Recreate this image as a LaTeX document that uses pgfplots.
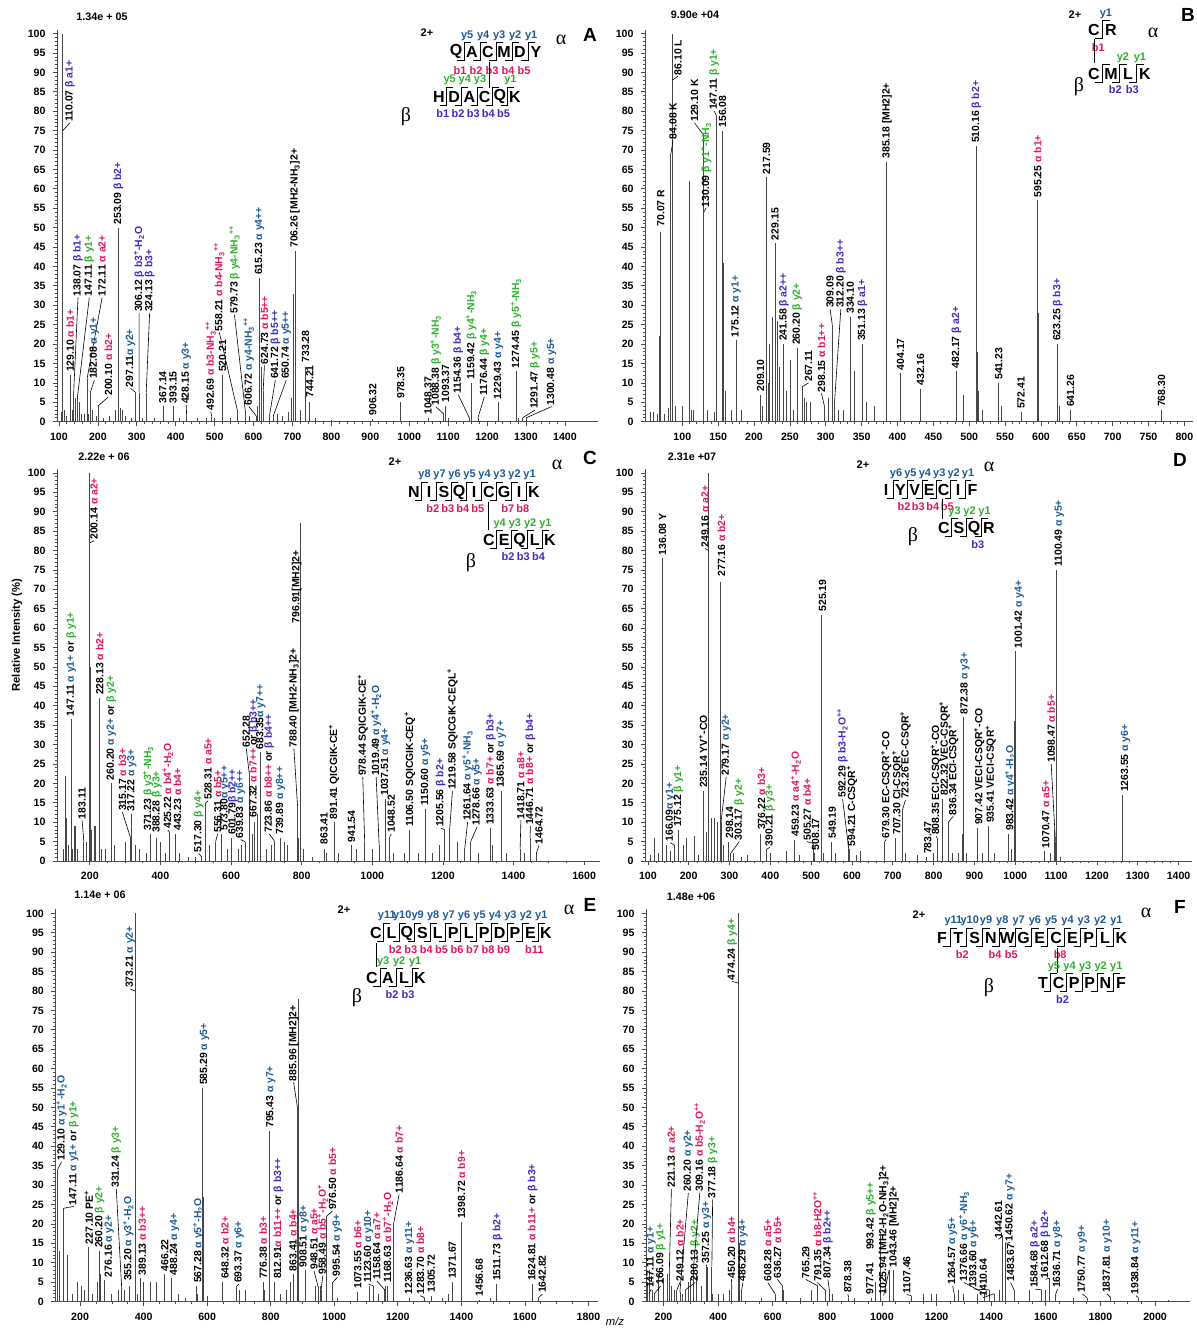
\documentclass[border=0pt]{standalone}
\usepackage{fontspec}
\setmainfont{Liberation Sans}
\newfontfamily\seriffont{Liberation Serif}
\usepackage{pgfplots}
\pgfplotsset{compat=1.18}
\definecolor{ared}{HTML}{E3165B}
\definecolor{ablue}{HTML}{1E5A96}
\definecolor{bgreen}{HTML}{2EAF2E}
\definecolor{bpur}{HTML}{3C2DBE}

\newcommand{\labfont}{\fontsize{5.2}{6}\selectfont\bfseries}
\newcommand{\tickfont}{\fontsize{5.3}{6}\selectfont\bfseries}
\newcommand{\seqfont}{\fontsize{8}{9}\selectfont\bfseries}
\newcommand{\ionfont}{\fontsize{5.5}{6}\selectfont\bfseries}
\newcommand{\grkfont}{\fontsize{10}{11}\selectfont\seriffont}
\newcommand{\panfont}{\fontsize{9.5}{10}\selectfont\bfseries}
\newcommand{\mulfont}{\fontsize{5.4}{6}\selectfont\bfseries}

\newcommand{\AR}[1]{\textcolor{ared}{α #1}}
\newcommand{\AB}[1]{\textcolor{ablue}{α #1}}
\newcommand{\BG}[1]{\textcolor{bgreen}{β #1}}
\newcommand{\BP}[1]{\textcolor{bpur}{β #1}}
\newcommand{\sps}[1]{\textsuperscript{#1}}
\newcommand{\sbs}[1]{\textsubscript{#1}}

\tikzset{lab/.style={rotate=90,anchor=west,inner sep=0.4pt,font=\labfont},
ldr/.style={line width=0.3pt,black}}
\newcommand{\pk}[3]{\node[lab] at (axis cs:#1,#2) {#3};}
\newcommand{\pkl}[5]{\draw[ldr] (axis cs:#1,#2) -- (axis cs:#3,#4); \node[lab] at (axis cs:#3,#4) {#5};}

\newcommand{\chain}[4]{\foreach \L [count=\i from 0] in {#4} {\node[font=\seqfont,inner sep=0pt] at ({#1+\i*#3},#2) {\L};}}
\newcommand{\brk}[4]{\foreach \i in {1,...,#4} {\draw[line width=0.5pt] ({#1+(\i-0.5)*#3-0.42*#3},{#2+9}) -- ({#1+(\i-0.5)*#3},{#2+9}) -- ({#1+(\i-0.5)*#3},{#2-9}) -- ({#1+(\i-0.5)*#3+0.42*#3},{#2-9});}}
\newcommand{\ylab}[5]{\foreach \g/\tx in {#5} {\node[font=\ionfont,text=#4,inner sep=0pt] at ({#1+(\g-0.3)*#3},#2) {\tx};}}
\newcommand{\blab}[5]{\foreach \g/\tx in {#5} {\node[font=\ionfont,text=#4,inner sep=0pt] at ({#1+(\g-0.75)*#3},#2) {\tx};}}

\pgfplotsset{
 spec/.style={
  scale only axis, height=196pt, anchor=south west,
  axis lines*=left, ymin=0, ymax=101,
  ytick={0,5,...,100}, minor y tick num=4,
  tick align=outside, major tick length=2.2pt, minor tick length=1.2pt,
  axis line style={line width=0.45pt, black!70},
  every tick/.append style={line width=0.35pt, black!70},
  tick label style={font=\tickfont, black},
  /pgf/number format/assume math mode=true,
  /pgf/number format/set thousands separator={},
  clip=false,
 },
 pk/.style={ycomb, draw=black!72, line width=0.4pt, mark=none}
}

\begin{document}
\begin{tikzpicture}
\useasboundingbox (0,0) rectangle (598pt,664pt);

% ---------------- A ----------------
\begin{axis}[spec, at={(28.5pt,453.15pt)}, width=270.5pt, xmin=95, xmax=1485, xtick={100,200,...,1400}, minor x tick num=4]
\addplot[pk] coordinates {(106,2.5)(110.07,100)(115,3)(120,1.5)(129.10,12)(135,3)(138.07,8)(142,6)(147.11,6)(152,5)(158,2)(165,2)(172.11,11)(176,2)(182.08,8)(186,3)(195,1.5)(200.10,4)(215,1)(230,1.5)(245,3)(253.09,50)(258,3.5)(263,3)(270,1.5)(285,1)(297.11,7.5)(306.12,7.5)(315,1)(324.13,7.5)(345,1)(367.14,4)(393.15,4)(410,1)(428.15,1.5)(455,1)(480,1)(492.69,1.3)(500,1)(520.21,12)(540,1)(558.21,3)(579.73,2)(590,1.5)(606.72,1.5)(610,4)(615.23,37)(620,14)(624.73,8)(641.72,2)(650.74,1.5)(660,2)(675,1.5)(690,2.5)(698,6)(703,33)(706.26,44)(720,3)(733.28,14)(744.21,5)(760,1)(800,0.5)(906.32,0.8)(978.35,5)(1048.37,1)(1088.38,2)(1093.37,4)(1100,1)(1154.36,1)(1159.42,10)(1176.44,1)(1229.43,5)(1274.45,13)(1280,1)(1291.47,1)(1300.48,1)};
\pkl{110.07}{75}{128}{77}{110.07 \BP{a1+}}
\pk{129.10}{12.5}{129.10 \AR{b1+}}
\pkl{138.07}{8}{149}{32}{138.07 \BP{b1+}}
\pkl{147.11}{6}{178}{32}{147.11 \BG{y1+}}
\pkl{172.11}{11}{211}{32}{172.11 \AR{a2+}}
\pkl{182.08}{8}{191}{10.7}{182.08 \AB{y1+}}
\pkl{200.10}{4}{227}{6.4}{200.10 \AR{b2+}}
\pk{253.09}{50.5}{253.09 \BP{b2+}}
\pkl{297.11}{7.5}{284}{8.6}{297.11\AB{y2+}}
\pkl{306.12}{7.5}{306}{28}{306.12 \BP{b3\sps{+}-H\sbs{2}O}}
\pkl{324.13}{7.5}{333}{28}{324.13 \BP{b3+}}
\pk{367.14}{4.5}{367.14}
\pk{393.15}{4.5}{393.15}
\pkl{428.15}{1.5}{427}{4.3}{428.15 \AB{y3+}}
\pkl{492.69}{1.3}{490}{2.6}{492.69 \AR{b3-NH\sbs{3}\sps{++}}}
\pk{520.21}{12.5}{520.21}
\pkl{558.21}{3}{512}{23}{558.21 \AR{b4-NH\sbs{3}\sps{++}}}
\pkl{579.73}{2}{551}{27.5}{579.73 \BG{y4-NH\sbs{3}\sps{++}}}
\pkl{606.72}{1.5}{588}{3.9}{606.72 \AB{y4-NH\sbs{3}\sps{++}}}
\pk{615.23}{37.5}{615.23 \AB{y4++}}
\pkl{624.73}{8}{628}{14.5}{624.73 \AR{b5++}}
\pkl{641.72}{2}{656}{10.7}{641.72 \BP{b5++}}
\pkl{650.74}{1.5}{684}{10.7}{650.74 \AB{y5++}}
\pk{706.26}{44.5}{706.26 [MH2-NH\sbs{3}]2+}
\pk{733.28}{15}{733.28}
\pk{744.21}{6}{744.21}
\pk{906.32}{1.3}{906.32}
\pk{978.35}{5.6}{978.35}
\pk{1048.37}{1.5}{1048.37}
\pkl{1088.38}{2}{1068}{3.9}{1088.38 \BG{y3\sps{+}-NH\sbs{3}}}
\pk{1093.37}{4.7}{1093.37}
\pkl{1154.36}{1}{1126}{6.9}{1154.36 \BP{b4+}}
\pk{1159.42}{10.5}{1159.42 \BG{y4\sps{+}-NH\sbs{3}}}
\pkl{1176.44}{1}{1193}{6.4}{1176.44 \BG{y4+}}
\pk{1229.43}{5.5}{1229.43 \AB{y4+}}
\pk{1274.45}{13.5}{1274.45 \BG{y5\sps{+}-NH\sbs{3}}}
\pkl{1291.47}{1}{1323}{3}{1291.47 \BG{y5+}}
\pkl{1300.48}{1}{1366}{3.9}{1300.48 \AB{y5+}}
\end{axis}

% ---------------- B ----------------
\begin{axis}[spec, at={(322.5pt,453.15pt)}, width=274pt, xmin=48, xmax=812, xtick={100,150,...,800}, minor x tick num=4]
\addplot[pk] coordinates {(55,2.5)(60,2.5)(65,2)(68,22)(69,11)(70.07,49)(75,2)(80,3.5)(84.08,69)(86.10,100)(90,4)(100,4)(110,62)(112,3)(115,3)(129.10,74)(130.09,54)(135,3)(145,2.5)(147.11,79)(156.08,75)(157,41)(160,8)(168,3)(175.12,21)(183,3)(209.10,7)(212,4)(217.59,63)(220,10)(222,20)(226,27)(229.15,46)(233,26)(236,14)(241.58,20)(245,8)(250,16)(255,3)(260.20,19)(267.11,9)(270,6)(273,5)(278,5)(298.15,4)(303,6)(309.09,25)(312.20,5)(318,3)(325,3)(334.10,27)(340,13)(351.13,20)(357,5)(368,4)(384,40)(385.18,67)(404.17,12.5)(432.16,8.5)(482.17,13)(492,7)(510.16,71)(511,18)(513,8)(519,3)(541.23,10)(545,4)(572.41,2.5)(595.25,57)(596,28)(597,20)(623.25,20)(626,4)(641.26,3)(768.30,3)};
\pk{70.07}{50}{70.07 R}
\pkl{84.08}{69}{87}{72.5}{84.08 K}
\pkl{86.10}{88}{94}{89}{86.10 L}
\pkl{129.10}{74}{117}{77}{129.10 K}
\pkl{130.09}{54}{133}{55}{130.09 \BG{y1\sps{+}-NH\sbs{3}}}
\pkl{147.11}{79}{144.5}{80}{147.11 \BG{y1+}}
\pk{156.08}{75.5}{156.08}
\pk{175.12}{21.5}{175.12 \AB{y1+}}
\pk{209.10}{7.5}{209.10}
\pk{217.59}{63.5}{217.59}
\pk{229.15}{46.5}{229.15}
\pk{241.58}{20.5}{241.58 \BP{a2++}}
\pk{260.20}{19.5}{260.20 \BG{y2+}}
\pkl{267.11}{9}{276}{10}{267.11}
\pkl{298.15}{4}{294}{7.3}{298.15 \AR{b1++}}
\pkl{309.09}{25}{306}{29}{309.09}
\pkl{312.20}{5}{321}{29}{312.20 \BP{b3++}}
\pk{334.10}{27.5}{334.10}
\pk{351.13}{20.5}{351.13 \BP{a1+}}
\pk{385.18}{67.5}{385.18 [MH2]2+}
\pk{404.17}{13}{404.17}
\pk{432.16}{9}{432.16}
\pk{482.17}{13.5}{482.17 \BP{a2+}}
\pk{510.16}{71.5}{510.16 \BP{b2+}}
\pk{541.23}{10.5}{541.23}
\pk{572.41}{3}{572.41}
\pk{595.25}{57.5}{595.25 \AR{b1+}}
\pk{623.25}{20.5}{623.25 \BP{b3+}}
\pk{641.26}{3.5}{641.26}
\pk{768.30}{3.5}{768.30}
\end{axis}

% ---------------- C ----------------
\begin{axis}[spec, at={(28.5pt,233.5pt)}, width=271.5pt, xmin=107, xmax=1645, xtick={200,400,...,1600}, minor x tick num=3]
\addplot[pk] coordinates {(125,3)(130,22)(133,11)(140,4)(147.11,36.5)(152,3)(155,9)(160,9)(165,3)(183.11,5)(190,5)(200.14,100)(201,50)(205,8)(212,9)(215,9)(228.13,42)(232,3)(245,3)(260.20,20)(270,4)(300,5)(315.17,6)(317.22,12)(330,4)(340,3)(360,2)(371.23,7)(388.28,6)(400,5)(415,2)(425.22,7.5)(443.23,7)(455,2)(480,1)(500,1)(517.30,1)(528.31,15)(540,4)(556.31,5)(573.80,7)(590,3)(601.79,6)(620,3)(630,4)(639.83,5)(652.28,22)(660,7)(667.32,10)(675,12)(683.35,28)(700,3)(715,4)(723.86,5)(739.89,6)(750,5)(760,4)(788.40,14)(790,6)(796.91,87)(805,3)(830,1)(863.41,3)(870,2)(891.41,10)(905,2)(941.54,4)(955,3)(978.44,5)(1000,3)(1019.49,4)(1037.51,16)(1048.52,6)(1060,2)(1090,2)(1106.50,8)(1130,2)(1150.60,13.5)(1170,2)(1190,4)(1205.56,8)(1219.58,8.5)(1240,5)(1261.64,3)(1278.66,5)(1300,2)(1333.63,8.5)(1340,4)(1365.69,18)(1380,2)(1418.71,3)(1430,2)(1446.71,6)(1464.72,2)};
\pk{147.11}{37}{147.11 \AB{y1+} or \BG{y1+}}
\pkl{183.11}{5}{178}{10.5}{183.11}
\pkl{200.14}{82}{212}{82.5}{200.14 \AR{a2+}}
\pk{228.13}{42.5}{228.13 \AR{b2+}}
\pk{260.20}{20.5}{260.20 \AB{y2+} or \BG{y2+}}
\pkl{315.17}{6}{292}{12.6}{315.17 \AR{b3+}}
\pk{319}{12.5}{317.22 \AB{y3+}}
\pk{365}{7.5}{371.23 \BG{y3\sps{+}-NH\sbs{3}}}
\pk{390}{7}{388.28 \BG{y3+}}
\pkl{425.22}{7.5}{421}{8}{425.22 \AR{b4\sps{+}-H\sbs{2}O}}
\pk{448}{7.5}{443.23 \AR{b4+}}
\pkl{517.30}{1}{508}{2}{517.30 \BG{y4+}}
\pkl{528.31}{15}{535}{15.5}{528.31 \AR{a5+}}
\pkl{556.31}{5}{562}{7}{556.31 \AR{b5+}}
\pk{583}{7.5}{573.80\AB{y5++}}
\pk{605}{6.5}{601.79\BP{b2++}}
\pkl{639.83}{5}{627}{5.5}{639.83 \AB{y6++}}
\pkl{652.28}{22}{643}{29}{652.28}
\pk{665}{11}{667.32 \AR{b7++} or \BP{b3++}}
\pk{684}{28.5}{683.35\AB{y7++}}
\pkl{723.86}{5}{708}{7}{723.86 \AR{b8++} or \BP{b4++}}
\pk{740}{6.5}{739.89 \AB{y8++}}
\pkl{788.40}{14}{778}{29}{788.40 [MH2-NH\sbs{3}]2+}
\pk{786}{61}{796.91[MH2]2+}
\pk{863.41}{4}{863.41}
\pk{891.41}{10.5}{891.41 QICGIK-CE\sps{+}}
\pk{941.54}{4.5}{941.54}
\pkl{978.44}{5}{973}{21.6}{978.44 SQICGIK-CE\sps{+}}
\pkl{1019.49}{4}{1011}{21.6}{1019.49 \AB{y4\sps{+}-H\sbs{2}O}}
\pk{1037.51}{16.5}{1037.51 \AB{y4+}}
\pkl{1048.52}{6}{1054}{7}{1048.52}
\pk{1106.50}{8.5}{1106.50 SQICGIK-CEQ\sps{+}}
\pk{1150.60}{14}{1150.60 \AB{y5+}}
\pkl{1205.56}{8}{1194}{8.5}{1205.56 \BP{b2+}}
\pkl{1219.58}{8.5}{1227}{18}{1219.58 SQICGIK-CEQL\sps{+}}
\pkl{1261.64}{3}{1270}{10}{1261.64 \AB{y5\sps{+}-NH\sbs{3}}}
\pkl{1278.66}{5}{1297}{8.8}{1278.66 \AB{y5+}}
\pk{1336}{9}{1333.63 \AR{b7+} or \BP{b3+}}
\pk{1365.69}{18.5}{1365.69 \AB{y7+}}
\pkl{1418.71}{3}{1421}{10.5}{1418.71 \AR{a8+}}
\pkl{1446.71}{6}{1448}{9}{1446.71 \AR{b8+} or \BP{b4+}}
\pkl{1464.72}{2}{1472}{4}{1464.72}
\end{axis}

% ---------------- D ----------------
\begin{axis}[spec, at={(322.5pt,233.5pt)}, width=273.5pt, xmin=93, xmax=1433, xtick={100,200,...,1400}, minor x tick num=4]
\addplot[pk] coordinates {(105,1.5)(115,6)(125,2)(136.08,78)(145,4)(155,2.5)(166.09,4)(175.12,8)(188,4)(195,6)(215,6.5)(225,1.5)(235.14,18)(243,7.5)(249.16,100)(255,11)(262,11)(270,10)(277.16,72)(279.17,10)(285,4)(298.14,5)(303.17,2)(310,2)(330,1)(345,1.5)(376.22,7)(390.21,3)(400,2)(440,2.5)(459.23,5.5)(470,1.5)(505.27,4.5)(508.17,2)(525.19,63.5)(530,2)(549.19,5)(560,2)(592.29,3)(594.21,3)(610,1.5)(620,2.5)(679.30,5)(707.30,6)(723.26,13)(730,2)(760,1.5)(783.47,1)(800,2)(808.35,6)(822.32,16)(836.34,10)(845,2)(860,2)(870,7)(872.38,37)(880,2)(907.42,8.5)(920,2)(935.41,9)(950,2)(983.42,7)(990,3)(999,36)(1001.42,54)(1070.47,2.5)(1085,2)(1095,8)(1098.47,5)(1100.49,75)(1102,49)(1110,1)(1263.55,17)};
\pk{136.08}{78.5}{136.08 Y}
\pkl{166.09}{4}{155}{4.7}{166.09\AB{y1+}}
\pk{175.12}{8.5}{175.12 \BG{y1+}}
\pk{235.14}{18.5}{235.14 YV\sps{+}-CO}
\pkl{249.16}{80}{240}{80.5}{249.16 \AR{a2+}}
\pk{280}{73}{277.16 \AR{b2+}}
\pkl{279.17}{10}{292}{21.7}{279.17 \AB{y2+}}
\pk{300}{5.5}{298.14}
\pkl{303.17}{2}{324}{5}{303.17 \BG{y2+}}
\pk{378}{7.7}{376.22 \AR{b3+}}
\pkl{390.21}{3}{399}{3.5}{390.21 \BG{y3+}}
\pk{462}{6}{459.23 \AR{a4\sps{+}-H\sbs{2}O}}
\pkl{505.27}{4.5}{490}{5}{505.27 \AR{b4+}}
\pk{511}{2.5}{508.17}
\pk{528}{64}{525.19}
\pk{552}{5.5}{549.19}
\pkl{592.29}{3}{577}{16}{592.29 \BP{b3-H\sbs{2}O\sps{++}}}
\pk{600}{3.5}{594.21 C-CSQR\sps{+}}
\pkl{679.30}{5}{684}{5.5}{679.30 EC-CSQR\sps{+}-CO}
\pk{711}{6.5}{707.30 CI-CSQR\sps{+}}
\pkl{723.26}{13}{731}{15.7}{723.26 EC-CSQR\sps{+}}
\pk{786}{1.5}{783.47}
\pkl{808.35}{6}{806}{6.4}{808.35 ECI-CSQR\sps{+}-CO}
\pk{827}{16.5}{822.32 VEC-CSQR\sps{+}}
\pkl{836.34}{10}{848}{11.5}{836.34 ECI-CSQR\sps{+}}
\pk{877}{37.5}{872.38 \AB{y3+}}
\pk{912}{9}{907.42 VECI-CSQR\sps{+}-CO}
\pk{940}{9.5}{935.41 VECI-CSQR\sps{+}}
\pk{988}{7.5}{983.42 \AB{y4\sps{+}-H\sbs{2}O}}
\pk{1010}{54.5}{1001.42 \AB{y4+}}
\pk{1075}{3}{1070.47 \AR{a5+}}
\pkl{1098.47}{5}{1088}{25}{1098.47 \AR{b5+}}
\pk{1108}{75.5}{1100.49 \AB{y5+}}
\pk{1270}{17.5}{1263.55 \AB{y6+}}
\end{axis}

% ---------------- E ----------------
\begin{axis}[spec, at={(27.65pt,13.25pt)}, width=271.5pt, xmin=122, xmax=1831, xtick={200,400,...,1800}, minor x tick num=3]
\addplot[pk] coordinates {(128,15)(129.10,34)(135,13)(147.11,24)(160,12)(175,2)(190,5)(205,4)(215,3)(227.10,14)(240,2)(255,5)(260.20,13)(265,7)(276.16,5.5)(300,2)(320,3)(331.24,3)(340,3)(355.20,4)(373.21,100)(375,50)(380,2)(389.13,6)(400,5)(420,5)(440,5)(466.22,7)(488.24,6)(510,2)(530,1)(567.28,4)(570,2)(585.29,55)(587,27)(600,1.5)(648.32,5)(693.37,4)(700,3)(720,3)(776.38,5)(780,3)(795.43,44)(797,28)(812.91,5)(830,2)(850,3)(863.41,5)(870,7)(884,50)(885.96,78)(908.51,8)(940,4)(948.51,4)(955,4)(958.49,3)(976.50,22)(995.54,5)(1010,1)(1073.55,2.5)(1110,4)(1123.60,4)(1140,2)(1158.64,3)(1160,4)(1168.63,4)(1186.64,20)(1236.63,1)(1283.70,1)(1305.72,1.5)(1340,1)(1360,2)(1371.67,5)(1398.72,20.5)(1456.68,0.5)(1490,0.8)(1511.73,4.5)(1624.81,4.5)(1642.82,1)};
\pkl{129.10}{34}{142}{36}{129.10 \AB{y1\sps{+}-H\sbs{2}O}}
\pkl{147.11}{24}{180}{24.5}{147.11 \AB{y1+} or \BG{y1+}}
\pk{227.10}{14.5}{227.10 PE\sps{+}}
\pk{262}{13.5}{260.20 \BG{y2+}}
\pk{292}{6}{276.16 \AB{y2+}}
\pkl{331.24}{3}{314}{29}{331.24 \BG{y3+}}
\pk{352}{5}{355.20 \AB{y3\sps{+}-H\sbs{2}O}}
\pkl{373.21}{80}{358}{80.5}{373.21 \AB{y2+}}
\pk{395}{6.5}{389.13 \AR{b3++}}
\pk{467}{7.5}{466.22}
\pk{497}{6.5}{488.24 \AB{y4+}}
\pk{572}{4.5}{567.28 \AB{y5\sps{+}-H\sbs{2}O}}
\pk{592}{55.5}{585.29 \AB{y5+}}
\pk{656}{5.5}{648.32 \AR{b2+}}
\pkl{693.37}{4}{700}{4.5}{693.37 \AB{y6+}}
\pk{776.38}{5.5}{776.38 \AR{b3+}}
\pk{800}{44.5}{795.43 \AB{y7+}}
\pk{824}{5.5}{812.91\AR{b11++} or \BP{b3++}}
\pk{870}{7.5}{863.41 \AR{b4+}}
\pkl{884}{50}{872}{56.5}{885.96 [MH2]2+}
\pk{905}{8.5}{908.51 \AB{y8+}}
\pkl{948.51}{4}{936}{7.9}{948.51 \AR{a5+}}
\pkl{958.49}{3}{964}{6.6}{958.49 \AR{b5\sps{+}-H\sbs{2}O\sps{+}}}
\pkl{976.50}{22}{994}{23.3}{976.50 \AR{b5+}}
\pkl{995.54}{5}{1010}{6.2}{995.54 \AB{y9+}}
\pk{1073.55}{3}{1073.55 \AR{b6+}}
\pkl{1123.60}{4}{1108}{4.5}{1123.60 \AB{y10+}}
\pkl{1158.64}{3}{1134}{5.3}{1158.64 \AR{a7+}}
\pk{1168.63}{4.5}{1168.63 \AR{b7\sps{+}-H\sbs{2}O}}
\pkl{1186.64}{20}{1204}{27.6}{1186.64 \AR{b7+}}
\pk{1236.63}{1.5}{1236.63 \AB{y11+}}
\pkl{1283.70}{1}{1271}{1.5}{1283.70 \AR{b8+}}
\pk{1305.72}{2}{1305.72}
\pk{1371.67}{5.5}{1371.67}
\pk{1400}{21}{1398.72 \AR{b9+}}
\pk{1456.68}{1}{1456.68}
\pk{1514}{5}{1511.73 \BP{b2+}}
\pk{1624.81}{5}{1624.81 \AR{b11+} or \BP{b3+}}
\pkl{1642.82}{1}{1655}{1.9}{1642.82}
\end{axis}

% ---------------- F ----------------
\begin{axis}[spec, at={(323pt,13.25pt)}, width=272pt, xmin=136, xmax=2128, xtick={200,400,...,2000}, minor x tick num=3]
\addplot[pk] coordinates {(140,5)(147.11,2)(150,8)(160,3)(166.09,2)(180,7)(200,6)(215,7)(221.13,7)(230,4)(240,3)(249.12,3)(260.20,2.5)(270,2)(280.13,3)(290,5)(300,6)(309.16,8)(320,7)(340,4)(357.25,9)(360,9)(377.18,9)(380,2)(400,2)(420,2)(440,3)(450.20,3)(474.24,100)(475.5,50)(478,15)(486.29,3)(560,1)(608.28,2)(610,2)(636.27,4)(640,3)(700,1)(740,3)(765.29,4)(791.35,3)(807.34,3)(820,2)(878.38,1)(900,1)(960,1)(977.41,5)(993.42,17)(1025.94,8)(1043.46,8)(1107.46,1.5)(1150,2)(1180,2)(1200,2)(1264.57,2)(1280,3)(1300,2)(1350,2)(1376.66,2)(1393.60,3)(1410.64,2)(1430,3)(1442.61,17)(1450.62,15)(1483.67,3)(1540,3)(1584.68,3)(1600,3)(1612.68,6)(1636.71,2)(1700,1)(1750.77,1)(1837.81,1)(1938.84,1)(2050,0.5)};
\pkl{147.11}{2}{155}{3.2}{147.11 \AB{y1+}}
\pkl{166.09}{2}{190}{4}{166.09 \BG{y1+}}
\pkl{221.13}{7}{229}{29}{221.13 \AR{a2+}}
\pkl{249.12}{3}{260}{4.9}{249.12 \AR{b2+}}
\pkl{260.20}{2.5}{291}{28}{260.20 \AB{y2+}}
\pkl{280.13}{3}{316}{4.9}{280.13 \BG{y2+}}
\pkl{309.16}{8}{333}{28}{309.16 \AR{b5-H\sbs{2}O\sps{++}}}
\pkl{357.25}{9}{358}{9.5}{357.25 \AB{y3+}}
\pkl{377.18}{9}{380}{26.3}{377.18 \BG{y3+}}
\pkl{450.20}{3}{449}{5.7}{450.20 \AR{b4+}}
\pkl{474.24}{82}{452}{82.5}{474.24 \BG{y4+}}
\pkl{486.29}{3}{491}{4.9}{486.29 \AB{y4+}}
\pkl{608.28}{2}{582}{4.9}{608.28 \AR{a5+}}
\pkl{636.27}{4}{617}{5.7}{636.27 \AR{b5+}}
\pkl{765.29}{4}{721}{5.7}{765.29}
\pkl{791.35}{3}{763}{4.9}{791.35 \AR{b8-H2O\sps{++}}}
\pkl{807.34}{3}{802}{5.7}{807.34 \BP{b2++}}
\pkl{878.38}{1}{875}{1.9}{878.38}
\pk{955}{1.5}{977.41}
\pk{960}{13}{993.42 \BG{y5++}}
\pkl{1025.94}{8}{1006}{1.5}{1025.94 [MH2-H\sbs{2}O-NH\sbs{3}]2+}
\pk{1043.46}{8.5}{1043.46 [MH2]2+}
\pkl{1107.46}{1.5}{1091}{1.8}{1107.46}
\pkl{1264.57}{2}{1259}{4}{1264.57 \AB{y5+}}
\pkl{1376.66}{2}{1301}{4.9}{1376.66 \AB{y6\sps{+}-NH\sbs{3}}}
\pkl{1393.60}{3}{1336}{3.2}{1393.60 \AB{y6+}}
\pkl{1410.64}{2}{1371}{1}{1410.64}
\pkl{1442.61}{17}{1427}{16}{1442.61}
\pkl{1450.62}{15}{1469}{15.2}{1450.62 \AB{y7+}}
\pkl{1483.67}{3}{1471}{4.9}{1483.67}
\pkl{1584.68}{3}{1560}{3.2}{1584.68 \BP{a2+}}
\pkl{1612.68}{6}{1599}{5.7}{1612.68 \BP{b2+}}
\pkl{1636.71}{2}{1643}{3.2}{1636.71 \AB{y8+}}
\pkl{1750.77}{1}{1734}{1.9}{1750.77 \AB{y9+}}
\pkl{1837.81}{1}{1825}{1.9}{1837.81 \AB{y10+}}
\pkl{1938.84}{1}{1930}{1.5}{1938.84 \AB{y11+}}
\end{axis}

% ---------------- annotations (pixel frame) ----------------
\begin{scope}[x=0.5pt,y=-0.5pt,yshift=664pt]
\node[font=\mulfont] at (102,17) {1.34e + 05};
\node[font=\mulfont] at (695,15) {9.90e +04};
\node[font=\mulfont] at (104,457) {2.22e + 06};
\node[font=\mulfont] at (692,457) {2.31e +07};
\node[font=\mulfont] at (100,895) {1.14e + 06};
\node[font=\mulfont] at (691,897) {1.48e +06};
\node[font=\panfont] at (590,35) {A};
\node[font=\panfont] at (1188,15) {B};
\node[font=\panfont] at (590,458) {C};
\node[font=\panfont] at (1180,460) {D};
\node[font=\panfont] at (590,905) {E};
\node[font=\panfont] at (1180,907) {F};
\node[font=\fontsize{5.6}{6}\selectfont\bfseries,rotate=90] at (17,635) {Relative Intensity (\%)};
\node[font=\fontsize{5.6}{6}\selectfont\itshape] at (615,1321) {m/z};

% A sequence
\node[font=\ionfont] at (427,33) {2+};
\node[font=\grkfont] at (561,40) {α};
\node[font=\grkfont] at (406,117) {β};
\chain{456}{52}{16}{Q,A,C,M,D,Y}
\brk{456}{52}{16}{5}
\ylab{456}{36}{16}{ablue}{1/y5,2/y4,3/y3,4/y2,5/y1}
\blab{456}{71}{16}{ared}{1/b1,2/b2,3/b3,4/b4,5/b5}
\draw[line width=0.5pt] (489,62) -- (489,88);
\chain{439}{97}{15.2}{H,D,A,C,Q,K}
\brk{439}{97}{15.2}{5}
\ylab{439}{80}{15.2}{bgreen}{1/y5,2/y4,3/y3,5/y1}
\blab{439}{114}{15.2}{bpur}{1/b1,2/b2,3/b3,4/b4,5/b5}

% B sequence
\node[font=\ionfont] at (1075,15) {2+};
\node[font=\grkfont] at (1153,33) {α};
\node[font=\grkfont] at (1079,87) {β};
\chain{1094}{30}{17}{C,R}
\brk{1094}{30}{17}{1}
\ylab{1094}{14}{17}{ablue}{1/y1}
\blab{1094}{48}{17}{ared}{1/b1}
\draw[line width=0.5pt] (1094,39) -- (1094,63);
\chain{1094}{74}{17}{C,M,L,K}
\brk{1094}{74}{17}{3}
\ylab{1094}{58}{17}{bgreen}{2/y2,3/y1}
\blab{1094}{90}{17}{bpur}{2/b2,3/b3}

% C sequence
\node[font=\ionfont] at (395,462) {2+};
\node[font=\grkfont] at (557,465) {α};
\node[font=\grkfont] at (471,563) {β};
\chain{414}{492}{15}{N,I,S,Q,I,C,G,I,K}
\brk{414}{492}{15}{8}
\ylab{414}{475}{15}{ablue}{1/y8,2/y7,3/y6,4/y5,5/y4,6/y3,7/y2,8/y1}
\blab{414}{509}{15}{ared}{2/b2,3/b3,4/b4,5/b5,7/b7,8/b8}
\draw[line width=0.5pt] (488,502) -- (488,530);
\chain{489}{540}{15.25}{C,E,Q,L,K}
\brk{489}{540}{15.25}{4}
\ylab{489}{524}{15.25}{bgreen}{1/y4,2/y3,3/y2,4/y1}
\blab{489}{557}{15.25}{bpur}{2/b2,3/b3,4/b4}

% D sequence
\node[font=\ionfont] at (863,465) {2+};
\node[font=\grkfont] at (989,467) {α};
\node[font=\grkfont] at (913,537) {β};
\chain{886}{490}{14.4}{I,Y,V,E,C,I,F}
\brk{886}{490}{14.4}{6}
\ylab{886}{474}{14.4}{ablue}{1/y6,2/y5,3/y4,4/y3,5/y2,6/y1}
\blab{886}{507}{14.4}{ared}{2/b2,3/b3,4/b4,5/b5}
\draw[line width=0.5pt] (942,499) -- (942,519);
\chain{944}{528}{15}{C,S,Q,R}
\brk{944}{528}{15}{3}
\ylab{944}{512}{15}{bgreen}{1/y3,2/y2,3/y1}
\blab{944}{545}{15}{bpur}{3/b3}

% E sequence
\node[font=\ionfont] at (344,910) {2+};
\node[font=\grkfont] at (569,910) {α};
\node[font=\grkfont] at (357,998) {β};
\chain{376}{933}{15.45}{C,L,Q,S,L,P,L,P,D,P,E,K}
\brk{376}{933}{15.45}{11}
\ylab{376}{916}{15.45}{ablue}{1/y11,2/y10,3/y9,4/y8,5/y7,6/y6,7/y5,8/y4,9/y3,10/y2,11/y1}
\blab{376}{950}{15.45}{ared}{2/b2,3/b3,4/b4,5/b5,6/b6,7/b7,8/b8,9/b9,11/b11}
\draw[line width=0.5pt] (376,943) -- (376,967);
\chain{372}{978}{16}{C,A,L,K}
\brk{372}{978}{16}{3}
\ylab{372}{962}{16}{bgreen}{1/y3,2/y2,3/y1}
\blab{372}{995}{16}{bpur}{2/b2,3/b3}

% F sequence
\node[font=\ionfont] at (919,915) {2+};
\node[font=\grkfont] at (1146,913) {α};
\node[font=\grkfont] at (989,988) {β};
\chain{942}{938}{16.3}{F,T,S,N,W,G,E,C,E,P,L,K}
\brk{942}{938}{16.3}{11}
\ylab{942}{921}{16.3}{ablue}{1/y11,2/y10,3/y9,4/y8,5/y7,6/y6,7/y5,8/y4,9/y3,10/y2,11/y1}
\blab{942}{955}{16.3}{ared}{2/b2,4/b4,5/b5,8/b8}
\draw[line width=0.5pt] (1057,948) -- (1057,973);
\chain{1043}{983}{15.6}{T,C,P,P,N,F}
\brk{1043}{983}{15.6}{5}
\ylab{1043}{967}{15.6}{bgreen}{1/y5,2/y4,3/y3,4/y2,5/y1}
\blab{1043}{1000}{15.6}{bpur}{2/b2}
\end{scope}
\end{tikzpicture}
\end{document}
